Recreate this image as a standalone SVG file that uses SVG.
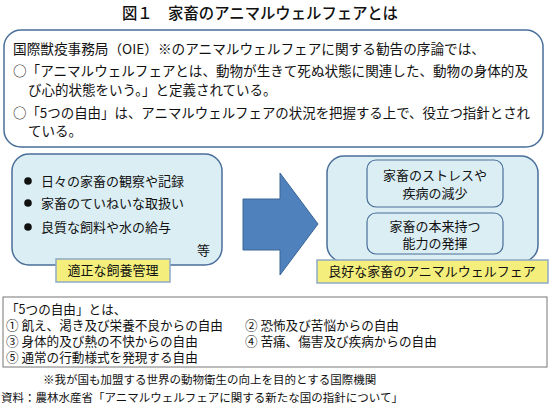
<svg xmlns="http://www.w3.org/2000/svg" width="550" height="407" viewBox="0 0 550 407">
<style>
text{font-family:"Noto Sans CJK JP","Noto Sans",sans-serif;fill:#111}
.t14{font-size:13.5px}
.t13{font-size:13px}
.b13{font-size:12.6px}
.t12{font-size:11.5px}
.box{fill:#dbeef4;stroke:#4a6f9a;stroke-width:1.5}
.inner{fill:#dbeef4;stroke:#4a6f9a;stroke-width:1.2}
.lab{fill:#f4ef7c;stroke:#8fa9c6;stroke-width:1.5}
.mid{text-anchor:middle}
</style>
<rect width="550" height="407" fill="#fff"/>
<text x="260" y="19" class="mid" style="font-size:15.5px;font-weight:500" textLength="276" lengthAdjust="spacingAndGlyphs">図１　家畜のアニマルウェルフェアとは</text>

<g id="intro">
<rect x="4" y="30" width="539" height="117" rx="17" fill="#fff" stroke="#4a6f9a" stroke-width="1.5"/>
<text x="13" y="54" class="t14" textLength="472" lengthAdjust="spacingAndGlyphs">国際獣疫事務局（OIE）※のアニマルウェルフェアに関する勧告の序論では、</text>
<text x="13" y="76" class="t14" textLength="515" lengthAdjust="spacingAndGlyphs">○「アニマルウェルフェアとは、動物が生きて死ぬ状態に関連した、動物の身体的及</text>
<text x="28" y="95" class="t14">び心的状態をいう。」と定義されている。</text>
<text x="13" y="118" class="t14" textLength="517" lengthAdjust="spacingAndGlyphs">○「5つの自由」は、アニマルウェルフェアの状況を把握する上で、役立つ指針とされ</text>
<text x="28" y="136" class="t14">ている。</text>
</g>

<g id="management">
<rect x="12" y="154" width="210" height="111" rx="17" class="box"/>
<circle cx="28" cy="181" r="3.8" fill="#111"/>
<circle cx="28" cy="203" r="3.8" fill="#111"/>
<circle cx="28" cy="227" r="3.8" fill="#111"/>
<text x="41" y="186" class="t13">日々の家畜の観察や記録</text>
<text x="41" y="208" class="t13">家畜のていねいな取扱い</text>
<text x="41" y="232" class="t13">良質な飼料や水の給与</text>
<text x="197" y="255" class="t13">等</text>
</g>
<g id="management-label">
<rect x="56" y="259" width="114" height="23" class="lab"/>
<text x="113" y="275" class="t13 mid">適正な飼養管理</text>
</g>

<g id="connectors">
<polygon points="243,199 280,199 280,173 318,224 280,275 280,250 243,250" fill="#4f81bd" stroke="#3b6596" stroke-width="1"/>
</g>

<g id="welfare">
<rect x="327" y="156" width="211" height="106" rx="17" class="box"/>
<rect x="367" y="160" width="136" height="47" rx="9" class="inner"/>
<text x="435" y="180" class="t13 mid">家畜のストレスや</text>
<text x="435" y="198" class="t13 mid">疾病の減少</text>
<rect x="367" y="213" width="136" height="41" rx="9" class="inner"/>
<text x="435" y="231" class="t13 mid">家畜の本来持つ</text>
<text x="435" y="248" class="t13 mid">能力の発揮</text>
</g>
<g id="welfare-label">
<rect x="317" y="260" width="231" height="23" class="lab"/>
<text x="432" y="276" class="t13 mid">良好な家畜のアニマルウェルフェア</text>
</g>

<g id="freedoms">
<rect x="3" y="297" width="544" height="70" fill="#fff" stroke="#777" stroke-width="1"/>
<text x="6" y="314" class="b13">「5つの自由」とは、</text>
<text x="6" y="330" class="b13">① 飢え、渇き及び栄養不良からの自由</text>
<text x="245" y="330" class="b13">② 恐怖及び苦悩からの自由</text>
<text x="6" y="346" class="b13">③ 身体的及び熱の不快からの自由</text>
<text x="245" y="346" class="b13">④ 苦痛、傷害及び疾病からの自由</text>
<text x="6" y="362" class="b13">⑤ 通常の行動様式を発現する自由</text>
</g>

<text x="43" y="384" class="t12">※我が国も加盟する世界の動物衛生の向上を目的とする国際機関</text>
<text x="1" y="402" class="t12">資料：農林水産省「アニマルウェルフェアに関する新たな国の指針について」</text>
</svg>
